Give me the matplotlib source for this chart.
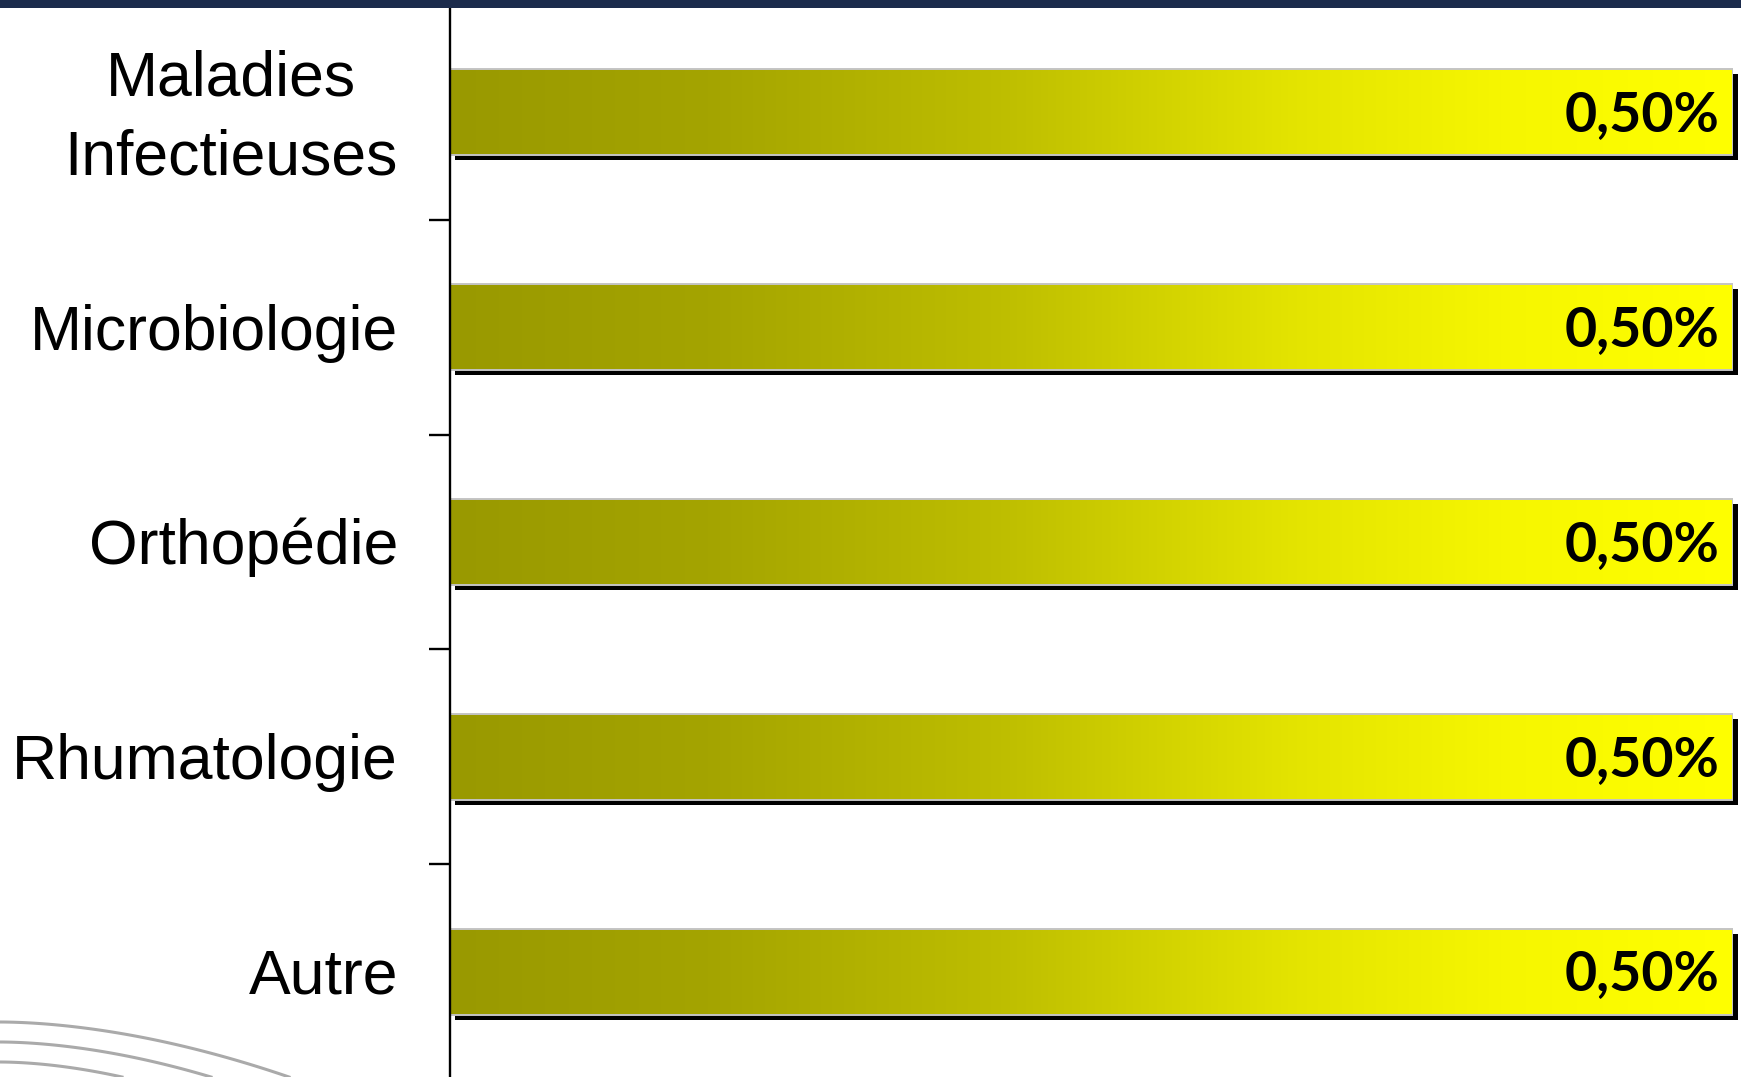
import numpy as np
import matplotlib
matplotlib.use("Agg")
import matplotlib.pyplot as plt
import matplotlib.transforms as mtransforms
from matplotlib.patches import Rectangle
from matplotlib.colors import LinearSegmentedColormap

# -------------------------------------------------------
# Data
# -------------------------------------------------------

categories = ["Maladies\nInfectieuses", "Microbiologie", "Orthopédie",
              "Rhumatologie", "Autre"]
values = [0.50, 0.50, 0.50, 0.50, 0.50]
value_labels = ["0,50%", "0,50%", "0,50%", "0,50%", "0,50%"]

# -------------------------------------------------------
# Figure
# -------------------------------------------------------

W, H = 1741, 1077
fig = plt.figure(figsize=(W / 100, H / 100), dpi=100)
fig.patch.set_facecolor("white")

ax = fig.add_axes([450 / W, -2 / H, (1733 - 450) / W, (1079 - 5) / H])
ax.set_facecolor("none")

# olive -> yellow horizontal gradient
grad = LinearSegmentedColormap.from_list(
    "olive_yellow",
    [(0.00, (153 / 255, 153 / 255, 0)),
     (0.20, (164 / 255, 164 / 255, 0)),
     (0.43, (190 / 255, 190 / 255, 0)),
     (0.66, (228 / 255, 228 / 255, 0)),
     (0.82, (246 / 255, 246 / 255, 0)),
     (1.00, (255 / 255, 255 / 255, 0))])
ramp = np.linspace(0, 1, 512).reshape(1, -1)

bar_h = 0.4
ypos = np.arange(len(categories))
bars = ax.barh(ypos, values, height=bar_h, left=0,
               facecolor="none", edgecolor="#c4c4c4", linewidth=1.4, zorder=3)

# shadow is the same rectangle pushed a few pixels right and down
shadow_tr = mtransforms.offset_copy(ax.transData, fig=fig, x=5, y=-5, units="dots")

for bar, v in zip(bars, values):
    y0 = bar.get_y()
    sh = Rectangle((0, y0), v, bar_h, transform=shadow_tr,
                   facecolor="black", edgecolor="none", zorder=1, clip_on=False)
    ax.add_patch(sh)
    im = ax.imshow(ramp, cmap=grad, aspect="auto", interpolation="bicubic",
                   extent=(0, v, y0 + bar_h, y0), zorder=2)
    im.set_clip_path(bar)

for y, v, lab in zip(ypos, values, value_labels):
    ax.annotate(lab, xy=(v, y), xytext=(-10, -2), textcoords="offset points",
                ha="right", va="center", fontsize=40, fontweight="bold",
                family="Lato", color="black", zorder=5)

ax.set_xlim(0, max(values))
ax.set_ylim(len(categories) - 0.5, -0.5)

# axis styling
for side in ["top", "right", "bottom"]:
    ax.spines[side].set_visible(False)
ax.spines["left"].set_linewidth(1.7)
ax.spines["left"].set_zorder(6)
ax.set_xticks([])

ax.set_yticks(ypos)
ax.set_yticklabels([])
ax.set_yticks(np.arange(-0.5, len(categories), 1.0), minor=True)
ax.tick_params(axis="y", which="major", length=0)
ax.tick_params(axis="y", which="minor", length=15, width=1.7, direction="out")

# category names: each block centred on its bar, lines centred on each other
# (va="baseline" anchors the last line of a multi-line label)
fs = 45
cap_half = 0.716 * fs * 100 / 72 / 2      # half cap height in pixels
line_step = 80                            # baseline to baseline in pixels
for y, cat in zip(ypos, categories):
    n = cat.count("\n") + 1
    dy = -cap_half - (n - 1) * line_step / 2
    tr = mtransforms.offset_copy(ax.transData, fig=fig, x=-52, y=dy, units="dots")
    ax.text(0, y, cat, transform=tr, ha="right", va="baseline",
            multialignment="center", linespacing=1.44,
            family="Liberation Sans", fontsize=fs, clip_on=False)

# dark band along the top
fig.patches.append(Rectangle((0, 1 - 8 / H), 1, 8 / H, transform=fig.transFigure,
                             facecolor="#1b2b4c", edgecolor="none", zorder=10))

# grey swoosh lines in the lower left corner
swooshes = [(1022, 289), (1042, 211), (1062, 122)]
for y_start, x_end in swooshes:
    xs = np.linspace(0, x_end, 100)
    ys = y_start + (H - y_start) * (xs / x_end) ** 1.8
    fig.add_artist(plt.Line2D(xs / W, 1 - ys / H, transform=fig.transFigure,
                              color="#aaaaaa", linewidth=2.2, zorder=0))

fig.savefig("out.png", dpi=100)
